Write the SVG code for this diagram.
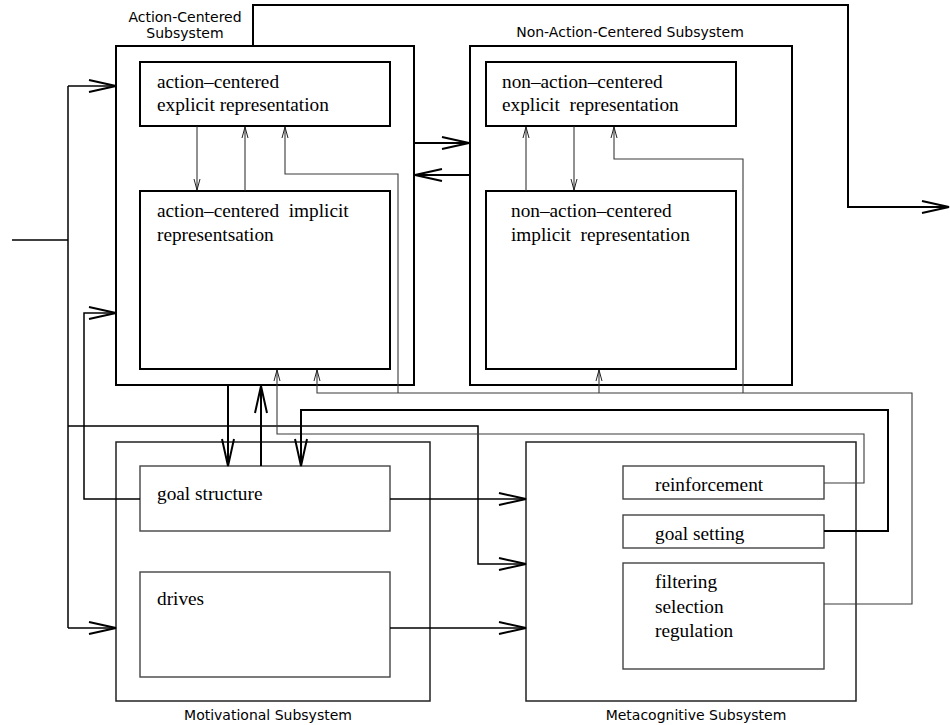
<svg xmlns="http://www.w3.org/2000/svg" width="950" height="725" viewBox="0 0 950 725">
<style>
.box{fill:none;stroke:#000;stroke-width:2}
.box2{fill:none;stroke:#222;stroke-width:1.5}
.box3{fill:none;stroke:#444;stroke-width:1.4}
.serif{font-family:"Liberation Serif","Times New Roman",serif;font-size:19.3px;fill:#000}
.sans{font-family:"DejaVu Sans",sans-serif;font-size:14px;fill:#000}
.thick{fill:none;stroke:#000;stroke-width:2}
.med{fill:none;stroke:#000;stroke-width:1.5}
.thin{fill:none;stroke:#222;stroke-width:1}
.gray{fill:none;stroke:#3a3a3a;stroke-width:1.1}
</style>
<defs>
<marker id="big" markerUnits="userSpaceOnUse" orient="auto" markerWidth="40" markerHeight="20" viewBox="-30 -10 40 20" refX="0" refY="0" overflow="visible">
<path d="M-27,-6 L0,0 L-27,6" fill="none" stroke="#000" stroke-width="2"/>
</marker>
<marker id="small" markerUnits="userSpaceOnUse" orient="auto" markerWidth="20" markerHeight="10" viewBox="-15 -5 20 10" refX="0" refY="0" overflow="visible">
<path d="M-11,-3 L0,0 L-11,3" fill="none" stroke="#222" stroke-width="1"/>
</marker>
</defs>

<g id="action-subsystem">
<rect class="box" x="116" y="46" width="298" height="339"/>
<text class="sans" x="185" y="22" text-anchor="middle">Action-Centered</text>
<text class="sans" x="185" y="38" text-anchor="middle">Subsystem</text>
</g>
<g id="action-explicit">
<rect class="box" x="140" y="62" width="250" height="64"/>
<text class="serif" x="157" y="88">action–centered</text>
<text class="serif" x="157" y="111">explicit representation</text>
</g>
<g id="action-implicit">
<rect class="box" x="140" y="191" width="250" height="178"/>
<text class="serif" x="157" y="217" xml:space="preserve">action–centered  implicit</text>
<text class="serif" x="157" y="241">representsation</text>
</g>

<g id="non-action-subsystem">
<rect class="box" x="470" y="46" width="322" height="339"/>
<text class="sans" x="630" y="37" text-anchor="middle">Non-Action-Centered Subsystem</text>
</g>
<g id="non-action-explicit">
<rect class="box" x="486" y="62" width="250" height="64"/>
<text class="serif" x="502" y="88">non–action–centered</text>
<text class="serif" x="502" y="111" xml:space="preserve">explicit  representation</text>
</g>
<g id="non-action-implicit">
<rect class="box" x="486" y="191" width="250" height="178"/>
<text class="serif" x="511" y="217">non–action–centered</text>
<text class="serif" x="511" y="241" xml:space="preserve">implicit  representation</text>
</g>

<g id="motivational-subsystem">
<rect class="box2" x="116" y="442" width="314" height="259"/>
<text class="sans" x="268" y="720" text-anchor="middle">Motivational Subsystem</text>
</g>
<g id="goal-structure">
<rect class="box3" x="140" y="466" width="250" height="65"/>
<text class="serif" x="157" y="500">goal structure</text>
</g>
<g id="drives">
<rect class="box3" x="140" y="572" width="250" height="105"/>
<text class="serif" x="157" y="605">drives</text>
</g>

<g id="metacognitive-subsystem">
<rect class="box2" x="526" y="442" width="330" height="259"/>
<text class="sans" x="696" y="720" text-anchor="middle">Metacognitive Subsystem</text>
</g>
<g id="reinforcement">
<rect class="box3" x="623" y="466" width="201" height="33"/>
<text class="serif" x="655" y="491">reinforcement</text>
</g>
<g id="goal-setting">
<rect class="box3" x="623" y="515" width="201" height="33"/>
<text class="serif" x="655" y="540">goal setting</text>
</g>
<g id="filtering">
<rect class="box3" x="623" y="563" width="201" height="106"/>
<text class="serif" x="655" y="588">filtering</text>
<text class="serif" x="655" y="613">selection</text>
<text class="serif" x="655" y="637">regulation</text>
</g>

<g id="connectors">
<path class="med" d="M12,240 H68"/>
<path class="med" d="M68,86 V628"/>
<path class="med" d="M68,86 H116" marker-end="url(#big)"/>
<path class="med" d="M68,628 H116" marker-end="url(#big)"/>
<path class="med" d="M68,426 H478 V564 H526" marker-end="url(#big)"/>
<path class="thick" d="M414,143 H469" marker-end="url(#big)"/>
<path class="thick" d="M470,175 H415" marker-end="url(#big)"/>
<path class="thick" d="M253,46 V5 H848 V207 H949" marker-end="url(#big)"/>
<path class="thin" d="M197,126 V190" marker-end="url(#small)"/>
<path class="thin" d="M245,191 V127" marker-end="url(#small)"/>
<path class="thin" d="M526,191 V127" marker-end="url(#small)"/>
<path class="thin" d="M574,126 V190" marker-end="url(#small)"/>
<path class="gray" d="M824,604 H912 V393 H317 V370" marker-end="url(#small)"/>
<path class="gray" d="M398,393 V174 H285 V127" marker-end="url(#small)"/>
<path class="gray" d="M599,393 V370" marker-end="url(#small)"/>
<path class="gray" d="M743,393 V159 H614 V127" marker-end="url(#small)"/>
<path class="gray" d="M824,483 H864 V434 H277 V370" marker-end="url(#small)"/>
<path class="thick" d="M824,531 H888 V410 H301 V466" marker-end="url(#big)"/>
<path class="thick" d="M228,385 V466" marker-end="url(#big)"/>
<path class="thick" d="M261,466 V386" marker-end="url(#big)"/>
<path class="med" d="M140,499 H84 V313 H116" marker-end="url(#big)"/>
<path class="med" d="M390,499 H526" marker-end="url(#big)"/>
<path class="med" d="M390,628 H526" marker-end="url(#big)"/>
</g>
</svg>
